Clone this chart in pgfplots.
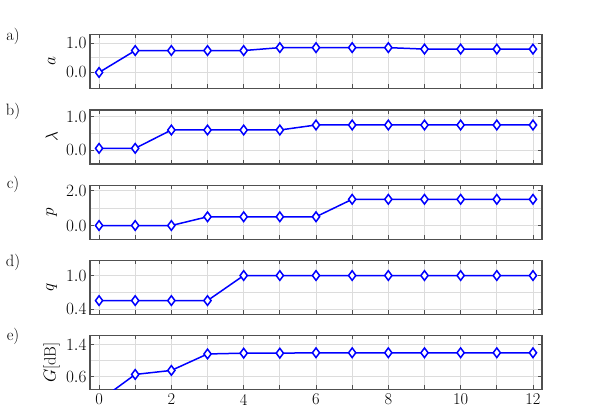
\documentclass[border=0pt]{standalone}
\usepackage{pgfplots}
\pgfplotsset{compat=1.18}
\definecolor{frame}{HTML}{505050}
\definecolor{gridc}{HTML}{DCDCDC}
\pgfplotsset{
  panel/.style={
    scale only axis, width=452bp, height=54bp, anchor=north west,
    xmin=-0.25, xmax=12.25, xtick={0,...,12},
    axis line style={frame, line width=1.1bp},
    tick style={frame, line width=0.8bp}, tick align=inside,
    major tick length=4bp, tick pos=both,
    grid=both, major grid style={gridc, line width=0.8bp},
    minor grid style={gridc, line width=0.8bp}, minor tick length=0pt,
    ticklabel style={font=\fontsize{16.5}{19}\selectfont},
    label style={font=\fontsize{16.5}{19}\selectfont},
    yticklabel style={/pgf/number format/.cd, fixed, fixed zerofill, precision=1},
    ylabel style={at={(axis description cs:-0.085,0.5)}, anchor=center},
    xticklabels={},
    clip=true,
  },
  curve/.style={blue, line width=1.5bp, mark=diamond*,
    mark size=4.8bp, mark options={fill=white, draw=blue, line width=1.5bp}},
}
\begin{document}
\begin{tikzpicture}
\useasboundingbox (0,0) rectangle (598bp,415bp);
% a)
\begin{axis}[panel, at={(90bp,380.5bp)}, ymin=-0.55, ymax=1.3,
  ytick={0,1}, minor ytick={0.5}, ylabel={$a$}]
\addplot[curve] coordinates {(0,0) (1,0.75) (2,0.75) (3,0.75) (4,0.75) (5,0.85)
  (6,0.85) (7,0.85) (8,0.85) (9,0.8) (10,0.8) (11,0.8) (12,0.8)};
\end{axis}
% b)
\begin{axis}[panel, at={(90bp,305bp)}, ymin=-0.42, ymax=1.2,
  ytick={0,1}, minor ytick={0.5}, ylabel={$\lambda$}]
\addplot[curve] coordinates {(0,0.05) (1,0.05) (2,0.6) (3,0.6) (4,0.6) (5,0.6)
  (6,0.75) (7,0.75) (8,0.75) (9,0.75) (10,0.75) (11,0.75) (12,0.75)};
\end{axis}
% c)
\begin{axis}[panel, at={(90bp,229.5bp)}, ymin=-0.8, ymax=2.29,
  ytick={0,2}, minor ytick={1}, ylabel={$p$}]
\addplot[curve] coordinates {(0,0) (1,0) (2,0) (3,0.5) (4,0.5) (5,0.5)
  (6,0.5) (7,1.5) (8,1.5) (9,1.5) (10,1.5) (11,1.5) (12,1.5)};
\end{axis}
% d)
\begin{axis}[panel, at={(90bp,154.5bp)}, ymin=0.3, ymax=1.27,
  ytick={0.4,1.0}, minor ytick={0.7}, ylabel={$q$}]
\addplot[curve] coordinates {(0,0.55) (1,0.55) (2,0.55) (3,0.55) (4,1) (5,1)
  (6,1) (7,1) (8,1) (9,1) (10,1) (11,1) (12,1)};
\end{axis}
% e)
\begin{axis}[panel, at={(90bp,79.5bp)}, ymin=0.285, ymax=1.63,
  ytick={0.6,1.4}, minor ytick={1.0}, ylabel={$G$[dB]},
  xticklabels={0,,2,,4,,6,,8,,10,,12},
  xticklabel style={yshift=-1bp}]
\addplot[curve] coordinates {(0,0) (1,0.66) (2,0.76) (3,1.17) (4,1.19) (5,1.19)
  (6,1.2) (7,1.2) (8,1.2) (9,1.2) (10,1.2) (11,1.2) (12,1.2)};
\end{axis}
\begin{scope}[every node/.style={font=\fontsize{16.5}{19}\selectfont}]
\node at (13bp,379bp) {a)};
\node at (13bp,304bp) {b)};
\node at (13bp,231bp) {c)};
\node at (13bp,153bp) {d)};
\node at (13bp,79bp) {e)};
\end{scope}
\end{tikzpicture}
\end{document}
